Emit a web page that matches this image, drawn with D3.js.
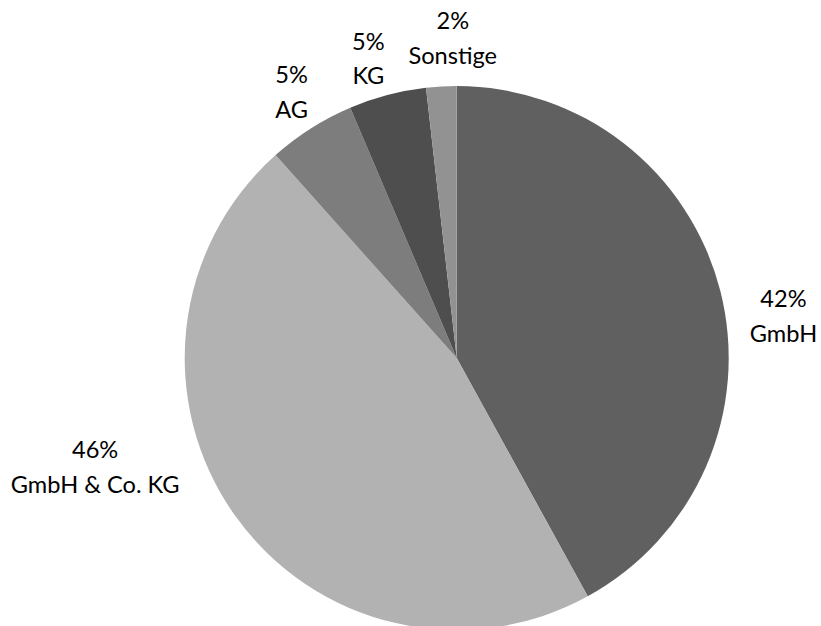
<!DOCTYPE html>
<html>
<head>
<meta charset="utf-8">
<script src="https://cdn.jsdelivr.net/npm/d3@7"></script>
<style>
  html, body { margin: 0; padding: 0; background: #fff; }
  svg { display: block; }
  .lbl { font-family: Lato, "Open Sans", sans-serif; font-size: 23.6px; fill: #000; }
</style>
</head>
<body>
<svg id="chart" width="821" height="626"></svg>
<script>
// Legal forms and their share in percent
const categories = ["GmbH", "GmbH & Co. KG", "AG", "KG", "Sonstige"];
const shares = [42.0, 46.4, 5.2, 4.6, 1.8];
const colors = ["#606060", "#b2b2b2", "#7d7d7d", "#4e4e4e", "#929292"];

const width = 821, height = 626;
const cx = 456.7, cy = 358, radius = 272;
const lineGap = 34.3;
// fine placement of each label block relative to its slice's outer point
const labelShift = [[24.6, 35.6], [-106.9, -71.1], [2.1, -2.6], [-8.8, 2.4], [13.7, -8.5]];

const data = categories.map((c, i) => ({ name: c, value: shares[i], color: colors[i], shift: labelShift[i] }));

const svg = d3.select("#chart");
const g = svg.append("g").attr("transform", `translate(${cx},${cy})`);

const pie = d3.pie().sort(null).value(d => d.value).startAngle(0).endAngle(2 * Math.PI);
const arcs = pie(data);
const arc = d3.arc().innerRadius(0).outerRadius(radius);
const labelArc = d3.arc().innerRadius(radius + 40).outerRadius(radius + 40);

g.selectAll("path.slice")
  .data(arcs)
  .join("path")
  .attr("class", "slice")
  .attr("d", arc)
  .attr("fill", d => d.data.color);

const fmt = v => Math.round(v) + "%";

const labels = g.selectAll("text.lbl")
  .data(arcs)
  .join("text")
  .attr("class", "lbl")
  .attr("text-anchor", "middle")
  .attr("transform", d => {
    const [x, y] = labelArc.centroid(d);
    return `translate(${x + d.data.shift[0]},${y + d.data.shift[1] - 8.65})`;
  });

labels.append("tspan").attr("x", 0).attr("y", 0).text(d => fmt(d.data.value));
labels.append("tspan").attr("x", 0).attr("y", lineGap).text(d => d.data.name);
</script>
</body>
</html>
